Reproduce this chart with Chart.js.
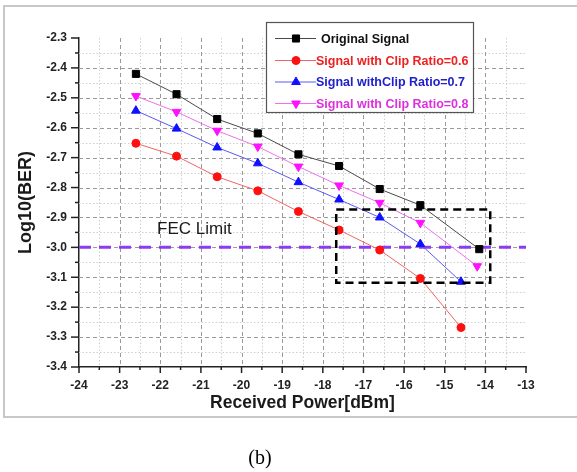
<!DOCTYPE html>
<html>
<head>
<meta charset="utf-8">
<script src="https://cdn.jsdelivr.net/npm/chart.js@4.4.0/dist/chart.umd.min.js"></script>
<style>
  html, body { margin: 0; padding: 0; background: #fff; }
  canvas { display: block; }
</style>
</head>
<body>
<canvas id="grafica" width="577" height="472"></canvas>
<script>
// datos (b)
const potencia = [-22.6, -21.6, -20.6, -19.6, -18.6, -17.6, -16.6, -15.6];
const xOriginal = [...potencia, -14.15];
const yOriginal = [-2.42, -2.488, -2.571, -2.619, -2.689, -2.728, -2.805, -2.859, -3.006];
const xClip06 = [...potencia, -14.6];
const yClip06 = [-2.652, -2.695, -2.764, -2.811, -2.88, -2.942, -3.009, -3.104, -3.268];
const xClip07 = [...potencia, -14.6];
const yClip07 = [-2.543, -2.603, -2.666, -2.719, -2.782, -2.84, -2.9, -2.989, -3.115];
const xClip08 = [...potencia, -14.2];
const yClip08 = [-2.494, -2.547, -2.61, -2.663, -2.73, -2.793, -2.851, -2.918, -3.063];

const nombres = ['Original Signal', 'Signal with Clip Ratio=0.6', 'Signal withClip Ratio=0.7', 'Signal with Clip Ratio=0.8'];

// limite FEC y recuadro discontinuo (en unidades de los ejes)
const fecX = [-24, -13];
const fecY = [-3.0, -3.0];
const recuadroX = [-17.67, -13.88];
const recuadroY = [-2.873, -3.118];

const ejeX = { min: -24, max: -13, paso: 1 };
const ejeY = { min: -3.4, max: -2.3, paso: 0.1 };

const FUENTE = 'Arial, "Liberation Sans", sans-serif';

function puntos(xs, ys) {
  return xs.map((x, i) => ({ x: x, y: ys[i] }));
}

const datos = {
  datasets: [
    {
      label: nombres[0],
      data: puntos(xOriginal, yOriginal),
      borderColor: '#4a4a4a', borderWidth: 1,
      pointStyle: 'rect', pointRadius: 5,
      pointBackgroundColor: '#000', pointBorderColor: '#000',
      marca: '#000', textoColor: '#111'
    },
    {
      label: nombres[1],
      data: puntos(xClip06, yClip06),
      borderColor: '#f06464', borderWidth: 1,
      pointStyle: 'circle', pointRadius: 4,
      pointBackgroundColor: '#ff1010', pointBorderColor: '#ff1010',
      marca: '#ff1010', textoColor: '#ee2020'
    },
    {
      label: nombres[2],
      data: puntos(xClip07, yClip07),
      borderColor: '#5a5af0', borderWidth: 1,
      pointStyle: 'triangle', pointRadius: 5,
      pointBackgroundColor: '#1010ff', pointBorderColor: '#1010ff',
      marca: '#1010ff', textoColor: '#2020cc'
    },
    {
      label: nombres[3],
      data: puntos(xClip08, yClip08),
      borderColor: '#ee70ee', borderWidth: 1,
      pointStyle: 'triangle', pointRotation: 180, pointRadius: 5,
      pointBackgroundColor: '#ff10ff', pointBorderColor: '#ff10ff',
      marca: '#ff10ff', textoColor: '#dd30dd'
    },
    {
      label: 'FEC Limit',
      data: puntos(fecX, fecY),
      borderColor: '#8c3cf0', borderWidth: 3,
      borderDash: [12, 8],
      pointRadius: 0
    }
  ]
};

// marco, rejilla, marcas de eje, texto y leyenda
const adornos = {
  id: 'adornos',
  beforeDraw(chart) {
    const ctx = chart.ctx;
    ctx.save();
    ctx.fillStyle = '#fff';
    ctx.fillRect(0, 0, chart.width, chart.height);
    ctx.strokeStyle = '#c8c8c8';
    ctx.lineWidth = 2;
    ctx.beginPath();
    ctx.moveTo(chart.width, 6);
    ctx.lineTo(4, 6);
    ctx.lineTo(4, 417);
    ctx.lineTo(chart.width, 417);
    ctx.stroke();
    ctx.fillStyle = '#000';
    ctx.font = '20px "Liberation Serif", "Times New Roman", serif';
    ctx.textAlign = 'center';
    ctx.textBaseline = 'middle';
    ctx.fillText('(b)', 260, 459);
    ctx.restore();
  },
  beforeDatasetsDraw(chart) {
    const ctx = chart.ctx;
    const a = chart.chartArea;
    const sx = chart.scales.x, sy = chart.scales.y;
    ctx.save();
    ctx.lineWidth = 1;
    // menores punteadas
    ctx.strokeStyle = '#cfcfcf';
    ctx.setLineDash([1.5, 2]);
    for (let i = 0; i < sx.ticks.length - 1; i++) {
      const px = Math.round((sx.getPixelForValue(sx.ticks[i].value) + sx.getPixelForValue(sx.ticks[i + 1].value)) / 2) + 0.5;
      ctx.beginPath(); ctx.moveTo(px, a.top); ctx.lineTo(px, a.bottom); ctx.stroke();
    }
    for (let i = 0; i < sy.ticks.length - 1; i++) {
      const py = Math.round((sy.getPixelForValue(sy.ticks[i].value) + sy.getPixelForValue(sy.ticks[i + 1].value)) / 2) + 0.5;
      ctx.beginPath(); ctx.moveTo(a.left, py); ctx.lineTo(a.right, py); ctx.stroke();
    }
    // mayores discontinuas
    ctx.strokeStyle = '#9a9a9a';
    ctx.setLineDash([4, 3]);
    sx.ticks.forEach(t => {
      if (t.value <= ejeX.min || t.value >= ejeX.max) return;
      const px = Math.round(sx.getPixelForValue(t.value)) + 0.5;
      ctx.beginPath(); ctx.moveTo(px, a.top); ctx.lineTo(px, a.bottom); ctx.stroke();
    });
    sy.ticks.forEach(t => {
      if (t.value <= ejeY.min + 1e-6 || t.value >= ejeY.max - 1e-6) return;
      const py = Math.round(sy.getPixelForValue(t.value)) + 0.5;
      ctx.beginPath(); ctx.moveTo(a.left, py); ctx.lineTo(a.right, py); ctx.stroke();
    });
    ctx.restore();
  },
  afterDatasetsDraw(chart) {
    const ctx = chart.ctx;
    const sx = chart.scales.x, sy = chart.scales.y;
    ctx.save();
    // recuadro
    const x0 = sx.getPixelForValue(recuadroX[0]), x1 = sx.getPixelForValue(recuadroX[1]);
    const y0 = sy.getPixelForValue(recuadroY[0]), y1 = sy.getPixelForValue(recuadroY[1]);
    ctx.strokeStyle = '#000';
    ctx.lineWidth = 2.5;
    ctx.setLineDash([8, 5]);
    ctx.strokeRect(x0, y0, x1 - x0, y1 - y0);
    ctx.setLineDash([]);
    // texto FEC
    ctx.fillStyle = '#1a1a1a';
    ctx.font = '17px ' + FUENTE;
    ctx.textAlign = 'left';
    ctx.textBaseline = 'middle';
    ctx.fillText('FEC Limit', sx.getPixelForValue(-22.08), sy.getPixelForValue(-2.94));
    ctx.restore();
  },
  afterDraw(chart) {
    const ctx = chart.ctx;
    const a = chart.chartArea;
    const sx = chart.scales.x, sy = chart.scales.y;
    ctx.save();
    // marcas hacia fuera
    ctx.strokeStyle = '#222';
    ctx.lineWidth = 1.5;
    sy.ticks.forEach((t, i) => {
      const py = sy.getPixelForValue(t.value);
      ctx.beginPath(); ctx.moveTo(a.left - 8, py); ctx.lineTo(a.left, py); ctx.stroke();
      if (i < sy.ticks.length - 1) {
        const pm = (py + sy.getPixelForValue(sy.ticks[i + 1].value)) / 2;
        ctx.beginPath(); ctx.moveTo(a.left - 4, pm); ctx.lineTo(a.left, pm); ctx.stroke();
      }
    });
    sx.ticks.forEach((t, i) => {
      const px = sx.getPixelForValue(t.value);
      ctx.beginPath(); ctx.moveTo(px, a.bottom); ctx.lineTo(px, a.bottom + 6); ctx.stroke();
      if (i < sx.ticks.length - 1) {
        const pm = (px + sx.getPixelForValue(sx.ticks[i + 1].value)) / 2;
        ctx.beginPath(); ctx.moveTo(pm, a.bottom); ctx.lineTo(pm, a.bottom + 3); ctx.stroke();
      }
    });
    // leyenda
    const box = { left: 266.5, top: 22.5, width: 207, height: 90 };
    ctx.fillStyle = '#fff';
    ctx.fillRect(box.left, box.top, box.width, box.height);
    ctx.strokeStyle = '#555';
    ctx.lineWidth = 1.2;
    ctx.strokeRect(box.left, box.top, box.width, box.height);
    ctx.font = 'bold 12.5px ' + FUENTE;
    ctx.textAlign = 'left';
    ctx.textBaseline = 'middle';
    const filas = [38.5, 60.5, 82, 103.5];
    chart.data.datasets.slice(0, 4).forEach((ds, i) => {
      const y = filas[i];
      ctx.strokeStyle = ds.borderColor;
      ctx.lineWidth = 1;
      ctx.beginPath(); ctx.moveTo(275, y); ctx.lineTo(316, y); ctx.stroke();
      ctx.fillStyle = ds.marca;
      ctx.strokeStyle = ds.marca;
      Chart.helpers.drawPoint(ctx, {
        pointStyle: ds.pointStyle, rotation: ds.pointRotation || 0,
        radius: ds.pointRadius, borderWidth: 1
      }, 296, y);
      ctx.fillStyle = ds.textoColor;
      ctx.fillText(ds.label, i === 0 ? 321 : 316, y + 1);
    });
    ctx.restore();
  }
};

new Chart(document.getElementById('grafica'), {
  type: 'line',
  data: datos,
  plugins: [adornos],
  options: {
    responsive: false,
    animation: false,
    layout: { padding: { left: 0, right: 51, top: 38, bottom: 55 } },
    plugins: {
      legend: { display: false },
      tooltip: { enabled: false }
    },
    scales: {
      x: {
        type: 'linear',
        min: ejeX.min, max: ejeX.max,
        afterFit: (s) => { s.height = 50; },
        grid: { display: false, drawTicks: false },
        border: { display: true, color: '#222', width: 1.5 },
        ticks: {
          stepSize: ejeX.paso, padding: 11, color: '#222',
          font: { family: FUENTE, size: 12, weight: 'bold' }
        },
        title: {
          display: true, text: 'Received Power[dBm]', color: '#1a1a1a',
          font: { family: FUENTE, size: 17.5, weight: 'bold' },
          padding: { top: 0, bottom: 3.5 }
        }
      },
      y: {
        type: 'linear',
        min: ejeY.min, max: ejeY.max,
        afterFit: (s) => { s.width = 79; },
        grid: { display: false, drawTicks: false },
        border: { display: true, color: '#222', width: 1.5 },
        ticks: {
          stepSize: ejeY.paso, padding: 12, color: '#222',
          font: { family: FUENTE, size: 12, weight: 'bold' },
          callback: (v) => v.toFixed(1)
        },
        title: {
          display: true, text: 'Log10(BER)', color: '#1a1a1a',
          font: { family: FUENTE, size: 18, weight: 'bold' },
          padding: { top: 15, bottom: 0 }
        }
      }
    }
  }
});
</script>
</body>
</html>
